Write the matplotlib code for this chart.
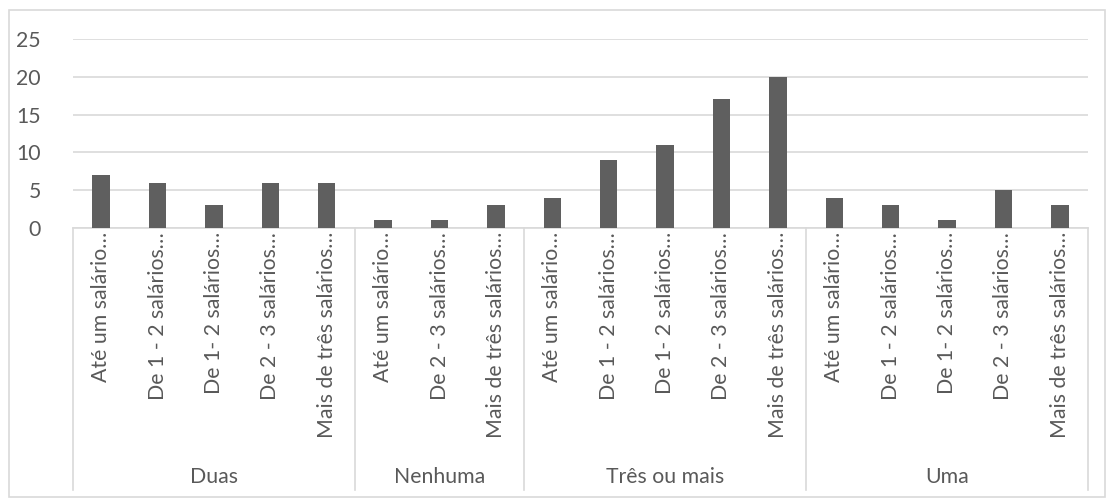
import numpy as np
import matplotlib
matplotlib.use("Agg")
import matplotlib.pyplot as plt
from matplotlib.patches import Rectangle

# grupos (número de ...) e faixas salariais
groups = ['Duas', 'Nenhuma', 'Três ou mais', 'Uma']
labels_duas = ['Até um salário…', 'De 1 - 2 salários…', 'De 1- 2 salários…',
               'De 2 - 3 salários…', 'Mais de três salários…']
labels_nenhuma = ['Até um salário…', 'De 2 - 3 salários…', 'Mais de três salários…']
labels_tres = ['Até um salário…', 'De 1 - 2 salários…', 'De 1- 2 salários…',
               'De 2 - 3 salários…', 'Mais de três salários…']
labels_uma = ['Até um salário…', 'De 1 - 2 salários…', 'De 1- 2 salários…',
              'De 2 - 3 salários…', 'Mais de três salários…']

vals_duas = [7, 6, 3, 6, 6]
vals_nenhuma = [1, 1, 3]
vals_tres = [4, 9, 11, 17, 20]
vals_uma = [4, 3, 1, 5, 3]

all_labels = [labels_duas, labels_nenhuma, labels_tres, labels_uma]
all_vals = [vals_duas, vals_nenhuma, vals_tres, vals_uma]

plt.rcParams['font.family'] = ['Lato', 'DejaVu Sans']
txt = '#595959'
grid = '#d9d9d9'
fs = 15.3

W, H = 1113, 500
fig = plt.figure(figsize=(W / 100, H / 100), dpi=100)
# área do gráfico em pixels
left, right, top, bottom = 73, 1088, 39, 228
ax = fig.add_axes([left / W, 1 - bottom / H, (right - left) / W, (bottom - top) / H])

labels = sum(all_labels, [])
values = sum(all_vals, [])
x = np.arange(len(values))

ax.bar(x, values, width=0.31, color='#5f5f5f', zorder=3)
ax.set_xlim(-0.5, len(values) - 0.5)
ax.set_ylim(0, 25)
ax.set_yticks(range(0, 26, 5))
ax.yaxis.grid(True, color=grid, lw=1.2, zorder=0)
for s in ['top', 'right', 'left']:
    ax.spines[s].set_visible(False)
ax.spines['bottom'].set_color(grid)
ax.spines['bottom'].set_linewidth(1.2)
ax.tick_params(axis='y', length=0, pad=23, labelsize=fs, labelcolor=txt)
ax.tick_params(axis='x', length=0, pad=3, labelsize=fs, labelcolor=txt)
ax.set_xticks(x)
ax.set_xticklabels(labels, rotation=90, ha='center', va='top')

# linhas separadoras dos grupos e rótulos de grupo
tr = ax.get_xaxis_transform()
ax_h = bottom - top
y_end = -(490 - bottom) / ax_h
y_grp = -(477 - bottom) / ax_h
edges = np.cumsum([0] + [len(v) for v in all_vals]) - 0.5
for e in edges:
    ax.plot([e, e], [0, y_end], transform=tr, color=grid, lw=1.2, clip_on=False)
for i, g in enumerate(groups):
    c = (edges[i] + edges[i + 1]) / 2
    ax.text(c, y_grp, g, transform=tr, ha='center', va='center', fontsize=fs, color=txt)

# moldura externa
fig.patches.append(Rectangle((9 / W, 1 - 497 / H), (1105 - 9) / W, (497 - 10) / H,
                             transform=fig.transFigure, fill=False, ec=grid, lw=1.2))

fig.savefig('out.png', dpi=100, facecolor='white')
